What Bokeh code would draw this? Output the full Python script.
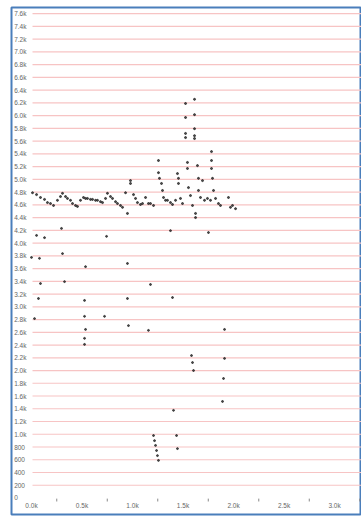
from bokeh.plotting import figure
from bokeh.models import Range1d, ColumnDataSource
from bokeh.core.properties import value
from bokeh.embed import file_html
from bokeh.resources import INLINE

# ---- data ----
band_x = [10, 50, 89, 129, 158, 188, 218, 257, 287, 307, 337, 356, 386, 406, 436, 455,
          485, 515, 535, 554, 584, 604, 634, 653, 683, 703, 733, 752, 782, 802, 832, 851,
          881, 901, 931, 950, 980, 980, 1010, 1030, 1049, 1079, 1099, 1129, 1158, 1178, 1208,
          1257, 1257, 1267, 1287, 1297, 1307, 1327, 1346, 1376, 1396, 1426,
          1445, 1455, 1455, 1475, 1495,
          1525, 1525, 1525, 1525, 1544, 1544, 1554, 1574, 1594,
          1614, 1614, 1614, 1614, 1614, 1624, 1624,
          1643, 1653, 1653, 1673, 1693, 1713, 1742, 1772,
          1782, 1782, 1782, 1792, 1802, 1822, 1851, 1871,
          1950, 1970, 1990, 2020]
band_y = [4790, 4760, 4715, 4685, 4635, 4620, 4590, 4670, 4730, 4780, 4730, 4700, 4670, 4620, 4590, 4575,
          4670, 4715, 4700, 4700, 4685, 4685, 4670, 4670, 4650, 4635, 4700, 4780, 4730, 4700, 4650, 4620,
          4590, 4560, 4790, 4465, 4935, 4980, 4760, 4700, 4635, 4605, 4620, 4715, 4620, 4620, 4590,
          5295, 5105, 5015, 4935, 4825, 4715, 4670, 4670, 4635, 4605, 4670,
          5090, 5015, 4935, 4700, 4620,
          6190, 5970, 5720, 5655, 5265, 5170, 4870, 4745, 4590,
          6255, 6015, 5795, 5685, 5640, 4465, 4400,
          5215, 5015, 4825, 4715, 4980, 4670, 4700, 4670,
          5435, 5295, 5170, 5015, 4825, 4700, 4620, 4590,
          4715, 4560, 4590, 4540]

low_x = [50, 129, 297, 743, 1376, 1752, 0, 79, 307, 535, 950, 89, 327, 1178, 69, 525, 950, 1396,
         30, 525, 723, 960, 535, 1158, 1911, 525, 525, 1584, 1594, 1604, 1911, 1901, 1891, 1406,
         1208, 1218, 1228, 1238, 1247, 1257, 1436, 1445]
low_y = [4120, 4085, 4230, 4105, 4195, 4165, 3775, 3760, 3835, 3630, 3680, 3365, 3395, 3350, 3130,
         3100, 3130, 3145, 2815, 2850, 2850, 2705, 2645, 2630, 2645, 2505, 2410, 2235, 2125, 2000,
         2190, 1875, 1515, 1375, 980, 900, 825, 745, 665, 590, 980, 775]

y_ticks = list(range(0, 7800, 200))
y_labels = ["0" if v == 0 else (f"{v / 1000:.1f}k" if v >= 1000 else str(v)) for v in y_ticks]
x_ticks = [0, 500, 1000, 1500, 2000, 2500, 3000]
x_labels = ["0.0k", "0.5k", "1.0k", "1.5k", "2.0k", "2.5k", "3.0k"]
x_minor = [250, 750, 1250, 1750, 2250, 2750, 3250]

# ---- figure ----
X0, X1 = -198, 3267
Y0, Y1 = -259, 7696
p = figure(width=361, height=518, output_backend="svg", toolbar_location=None,
           x_range=Range1d(X0, X1), y_range=Range1d(Y0, Y1),
           x_axis_location=None, y_axis_location=None,
           min_border_left=11, min_border_top=7, min_border_right=0, min_border_bottom=4)
p.grid.visible = False
p.outline_line_color = "#4a7ebb"
p.outline_line_width = 2
p.background_fill_color = "white"
p.border_fill_color = "white"

# pink horizontal grid lines (starting right of the labels)
grid_vals = [v for v in y_ticks if v > 0]
p.segment(x0=[10] * len(grid_vals), x1=[X1] * len(grid_vals), y0=grid_vals, y1=grid_vals,
          line_color="#f7c4c4", line_width=1.2)

# y labels inside the frame
ysrc = ColumnDataSource(dict(x=[-172] * len(y_ticks), y=y_ticks, t=y_labels))
p.text(x="x", y="y", text="t", source=ysrc, text_font=value("Liberation Sans"),
       text_font_size="6.5px", text_align="left", text_baseline="middle", text_color="#666666")

# x labels and small tick marks
xsrc = ColumnDataSource(dict(x=x_ticks, y=[-125] * len(x_ticks), t=x_labels))
p.text(x="x", y="y", text="t", source=xsrc, text_font=value("Liberation Sans"),
       text_font_size="6.5px", text_align="center", text_baseline="middle", text_color="#666666")
p.segment(x0=x_minor, x1=x_minor, y0=[-10] * len(x_minor), y1=[-55] * len(x_minor),
          line_color="#888888", line_width=1)

# data points
p.scatter(band_x, band_y, size=2.0, color="#222222", alpha=0.8)
p.scatter(low_x, low_y, size=1.9, color="#222222", alpha=0.8)

open("out.html", "w").write(file_html(p, INLINE))
